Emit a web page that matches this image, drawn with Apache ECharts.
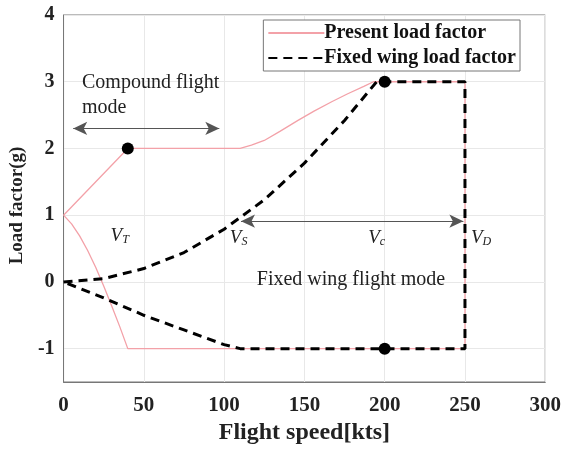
<!DOCTYPE html>
<html>
<head>
<meta charset="utf-8">
<script src="https://cdn.jsdelivr.net/npm/echarts@6/dist/echarts.min.js"></script>
<style>
  html, body { margin: 0; padding: 0; background: #fff; }
  #cht { width: 564px; height: 450px; }
</style>
</head>
<body>
<div id="cht"></div>
<script>
// values
var xTicks = [0, 50, 100, 150, 200, 250, 300];
var yTicks = [-1, 0, 1, 2, 3, 4];

// present load factor, traced as one closed path
var presentLoad = [
    [0, 1], [40, 2], [110, 2], [117, 2.05], [125, 2.12], [135, 2.26], [146, 2.42], [156, 2.56],
    [167, 2.7], [177, 2.82], [187, 2.93], [193, 3],
    [250, 3], [250, -1], [40, -1], [35, -0.67], [30, -0.36], [25, -0.06], [20, 0.22],
    [15, 0.47], [10, 0.69], [5, 0.87], [0, 1]
];
// fixed wing envelope
var fixedWing = [
    [0, 0], [25, 0.05], [50, 0.2], [75, 0.44], [100, 0.79], [125, 1.23], [150, 1.78], [175, 2.42], [195, 3],
    [250, 3], [250, -1], [110, -1], [100, -0.94], [75, -0.72], [50, -0.5], [25, -0.24], [0, 0]
];
var keyPoints = [[40, 2], [200, 3], [200, -1]];

var font = 'Liberation Serif';
var vLabel = function (sub) { return '{v|V}{s|' + sub + '}'; };

var config = {
    animation: false,
    backgroundColor: '#fff',
    grid: { left: 62, right: 17, top: 15, bottom: 65, show: true, borderColor: '#777', borderWidth: 1 },
    legend: {
        data: ['Present load factor', 'Fixed wing load factor'],
        orient: 'vertical',
        right: 44,
        top: 20,
        itemWidth: 56,
        itemHeight: 14,
        itemGap: 5,
        padding: [3, 4, 3, 4],
        backgroundColor: '#fff',
        borderColor: '#777',
        borderWidth: 1,
        itemStyle: { opacity: 0 },
        textStyle: { fontFamily: font, fontWeight: 'bold', fontSize: 20, color: '#111', padding: [0, 0, 0, -5] }
    },
    xAxis: {
        type: 'value', min: 0, max: 300, interval: 50,
        name: 'Flight speed[kts]', nameLocation: 'middle', nameGap: 39,
        nameTextStyle: { fontFamily: font, fontWeight: 'bold', fontSize: 24, color: '#222' },
        axisLine: { show: true, onZero: false, lineStyle: { color: '#777' } },
        axisTick: { show: false },
        axisLabel: { fontFamily: font, fontWeight: 'bold', fontSize: 21, color: '#222', margin: 13 },
        splitLine: { lineStyle: { color: '#e8e8e8' } }
    },
    yAxis: {
        type: 'value', min: -1.5, max: 4, interval: 0.5,
        name: 'Load factor(g)', nameLocation: 'middle', nameGap: 35,
        nameTextStyle: { fontFamily: font, fontWeight: 'bold', fontSize: 19, color: '#222', padding: [0, 14, 0, 0] },
        axisLine: { show: true, onZero: false, lineStyle: { color: '#777' } },
        axisTick: { show: false },
        axisLabel: {
            fontFamily: font, fontWeight: 'bold', fontSize: 20, color: '#222', margin: 9,
            formatter: function (v) { return yTicks.indexOf(v) >= 0 ? String(v) : ''; }
        },
        splitLine: { lineStyle: { color: ['rgba(0,0,0,0)', '#e8e8e8'] } }
    },
    series: [
        {
            name: 'Present load factor', type: 'line', data: presentLoad,
            symbol: 'none', color: '#f3a1a8', lineStyle: { width: 1.3, color: '#f3a1a8' }, z: 3
        },
        {
            name: 'Fixed wing load factor', type: 'line', data: fixedWing,
            symbol: 'none', color: '#000', lineStyle: { width: 3, color: '#000', type: [9, 6] }, z: 4
        },
        {
            name: 'points', type: 'scatter', data: keyPoints,
            symbolSize: 12, itemStyle: { color: '#000', opacity: 1 }, z: 5
        },
        {
            name: 'notes', type: 'scatter', data: [], symbolSize: 0, silent: true,
            markLine: {
                silent: true,
                symbol: ['arrow', 'arrow'],
                symbolSize: [10, 14],
                label: { show: false },
                lineStyle: { color: '#555', width: 1, type: 'solid' },
                data: [
                    [{ coord: [6, 2.3] }, { coord: [97, 2.3] }],
                    [{ coord: [110.5, 0.91] }, { coord: [249, 0.91] }]
                ]
            },
            markPoint: {
                symbol: 'circle', symbolSize: 0,
                label: {
                    show: true, fontFamily: font, fontSize: 20, color: '#222',
                    rich: {
                        v: { fontFamily: font, fontStyle: 'italic', fontSize: 19, color: '#222' },
                        s: { fontFamily: font, fontStyle: 'italic', fontSize: 12, color: '#222', verticalAlign: 'bottom', padding: [8, 0, 0, 0] }
                    }
                },
                data: [
                    { coord: [11.5, 2.79], value: 0, label: { formatter: 'Compound flight\nmode', align: 'left', lineHeight: 25 } },
                    { coord: [179, 0.03], value: 0, label: { formatter: 'Fixed wing flight mode' } },
                    { coord: [35, 0.69], value: 0, label: { formatter: vLabel('T') } },
                    { coord: [109, 0.66], value: 0, label: { formatter: vLabel('S') } },
                    { coord: [195, 0.66], value: 0, label: { formatter: vLabel('c') } },
                    { coord: [260, 0.66], value: 0, label: { formatter: vLabel('D') } }
                ]
            }
        }
    ]
};

window.onload = function () {
    var myChart = echarts.init(document.getElementById('cht'));
    myChart.setOption(config);
};
</script>
</body>
</html>
